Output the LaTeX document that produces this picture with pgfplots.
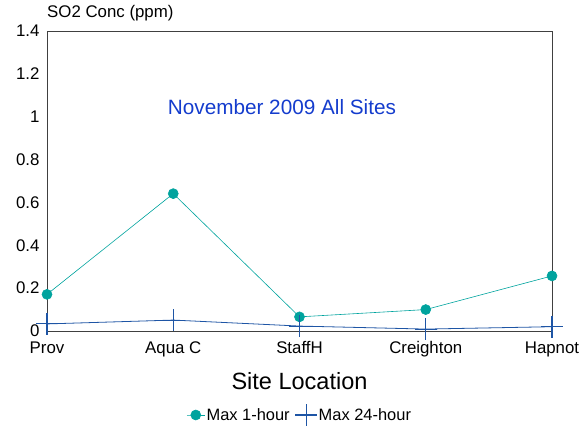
\documentclass[border=0pt]{standalone}
\usepackage{fontspec}
\setmainfont{Liberation Sans}
\usepackage{pgfplots}
\pgfplotsset{compat=1.18}
\definecolor{tealc}{RGB}{0,163,158}
\definecolor{bluec}{RGB}{30,85,165}
\definecolor{titleblue}{RGB}{20,60,205}
\begin{document}
\begin{tikzpicture}
\begin{axis}[
  scale only axis, width=505bp, height=300bp,
  xmin=0, xmax=4, ymin=0, ymax=1.4,
  xtick={0,1,2,3,4},
  xticklabels={Prov,Aqua C,StaffH,Creighton,Hapnot},
  ytick={0,0.2,0.4,0.6,0.8,1,1.2,1.4},
  major tick length=0pt,
  /pgf/number format/assume math mode=true,
  /pgf/number format/fixed,
  tick label style={font=\fontsize{16.9}{19}\selectfont},
  yticklabel style={xshift=-4bp},
  xticklabel style={yshift=-7bp},
  axis line style={black!75, line width=0.8pt},
  clip=false,
  xlabel={Site Location},
  xlabel style={font=\fontsize{23.6}{26}\selectfont, at={(axis description cs:0.5,-0.1667)}, anchor=center},
  ylabel={SO2 Conc (ppm)},
  ylabel style={rotate=-90, font=\fontsize{16.9}{19}\selectfont, at={(axis description cs:0,1.06)}, anchor=west, inner sep=0pt},
  legend columns=2,
  legend style={draw=none, fill=none, font=\fontsize{16.5}{19}\selectfont,
    at={(axis description cs:0.5,-0.28)}, anchor=center,
    nodes={inner sep=1.5bp},
    /tikz/every even column/.append style={column sep=4bp}},
  legend image code/.code={\draw[mark repeat=2,mark phase=2] plot coordinates {(0bp,0bp) (9bp,0bp) (18bp,0bp)};},
  legend cell align=left,
]
\addplot[color=tealc, line width=0.6pt, mark=*, mark size=5bp, mark options={fill=tealc, draw=tealc}]
  coordinates {(0,0.171) (1,0.641) (2,0.066) (3,0.10) (4,0.257)};
\addlegendentry{Max 1-hour}
\addplot[color=bluec, line width=0.8pt, mark=+, mark size=11bp, mark options={line width=1.1pt}]
  coordinates {(0,0.033) (1,0.051) (2,0.023) (3,0.009) (4,0.02)};
\addlegendentry{Max 24-hour}
\node[text=titleblue, font=\fontsize{20.8}{23}\selectfont] at (axis cs:1.861,1.045) {November 2009 All Sites};
\end{axis}
\pgfresetboundingbox
\path (current axis.south west) ++(-47bp,-99bp) rectangle ++(586bp,430bp);
\end{tikzpicture}
\end{document}
